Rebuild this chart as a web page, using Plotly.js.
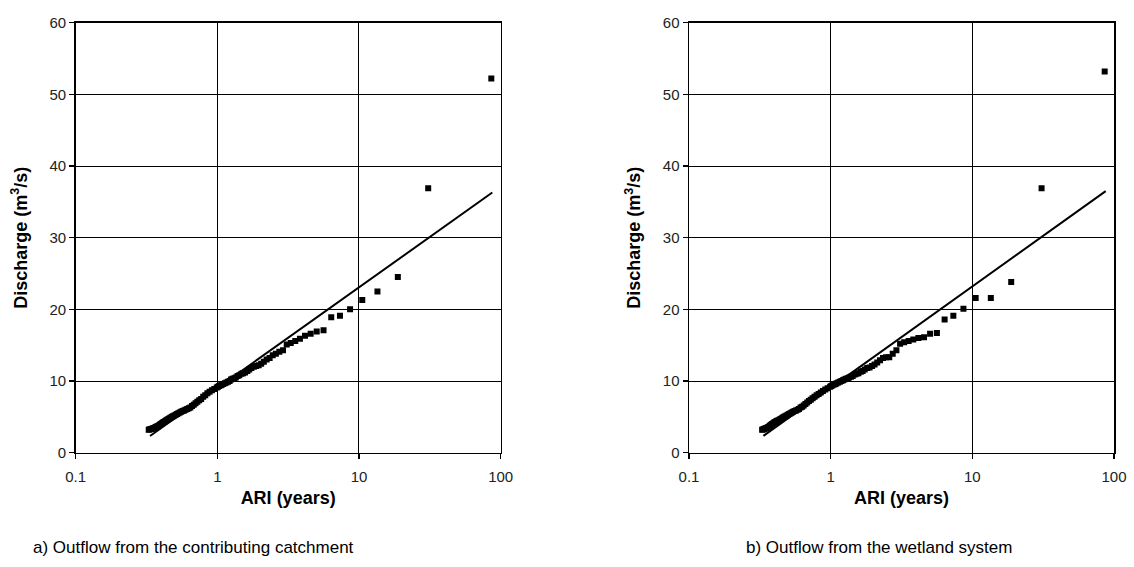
<!DOCTYPE html>
<html>
<head>
<meta charset="utf-8">
<script src="https://cdn.plot.ly/plotly-3.0.1.min.js"></script>
<style>html,body{margin:0;padding:0;background:#fff;}#chart{width:1134px;height:567px;}</style>
</head>
<body>
<div id="chart"></div>
<script>
// ARI (years) plotting positions (same for both panels)
var ari = [85.9, 30.8, 18.8, 13.5, 10.55, 8.65, 7.34, 6.37, 5.62, 5.03,
  4.56, 4.16, 3.83, 3.55, 3.30, 3.09, 2.91, 2.74, 2.59, 2.46,
  2.34, 2.23, 2.13, 2.04, 1.96, 1.88, 1.81, 1.74, 1.68, 1.63,
  1.57, 1.52, 1.48, 1.43, 1.39, 1.35, 1.32, 1.28, 1.25, 1.22,
  1.19, 1.16, 1.13, 1.10, 1.08, 1.06, 1.03, 1.01,
  0.991, 0.952, 0.916, 0.882, 0.851, 0.822, 0.795, 0.769, 0.745, 0.723,
  0.702, 0.682, 0.663, 0.645, 0.629, 0.613, 0.597, 0.583, 0.569, 0.556,
  0.543, 0.531, 0.520, 0.509, 0.498, 0.488, 0.479, 0.469, 0.460, 0.452,
  0.443, 0.435, 0.427, 0.420, 0.413, 0.406, 0.399, 0.393, 0.386, 0.380,
  0.374, 0.369, 0.363, 0.358, 0.352, 0.347, 0.342, 0.338, 0.333, 0.328];

// a) Outflow from the contributing catchment (m3/s)
var qCatchment = [52.2, 36.9, 24.5, 22.5, 21.3, 20.0, 19.1, 18.9, 17.1, 16.9,
  16.6, 16.3, 15.9, 15.6, 15.3, 15.1, 14.3, 14.1, 13.8, 13.6,
  13.2, 13.0, 12.7, 12.4, 12.2, 12.1, 12.0, 11.8, 11.6, 11.4,
  11.2, 11.1, 11.0, 10.8, 10.7, 10.5, 10.4, 10.3, 10.2, 10.0,
  9.9, 9.8, 9.7, 9.6, 9.5, 9.4, 9.3, 9.2,
  9.1, 8.9, 8.7, 8.5, 8.3, 8.0, 7.8, 7.5, 7.3, 7.1,
  6.9, 6.7, 6.5, 6.3, 6.2, 6.1, 6.0, 5.9, 5.8, 5.7,
  5.6, 5.5, 5.4, 5.3, 5.2, 5.1, 5.0, 4.9, 4.8, 4.7,
  4.6, 4.5, 4.4, 4.3, 4.2, 4.1, 4.0, 3.9, 3.8, 3.7,
  3.65, 3.6, 3.5, 3.45, 3.4, 3.35, 3.3, 3.3, 3.25, 3.2];

// b) Outflow from the wetland system (m3/s)
var qWetland = [53.2, 36.9, 23.8, 21.6, 21.6, 20.1, 19.1, 18.6, 16.7, 16.6,
  16.1, 16.0, 15.8, 15.6, 15.4, 15.2, 14.3, 13.8, 13.3, 13.3,
  13.2, 12.9, 12.6, 12.3, 12.1, 11.9, 11.8, 11.6, 11.4, 11.3,
  11.1, 11.0, 10.9, 10.7, 10.6, 10.5, 10.4, 10.3, 10.2, 10.1,
  10.0, 9.9, 9.8, 9.7, 9.6, 9.5, 9.4, 9.3,
  9.2, 9.0, 8.8, 8.6, 8.4, 8.2, 8.0, 7.8, 7.6, 7.4,
  7.2, 7.0, 6.8, 6.6, 6.4, 6.3, 6.1, 6.0, 5.9, 5.8,
  5.7, 5.6, 5.5, 5.4, 5.3, 5.2, 5.1, 5.0, 4.9, 4.8,
  4.7, 4.6, 4.5, 4.45, 4.4, 4.3, 4.2, 4.1, 4.0, 3.9,
  3.8, 3.7, 3.6, 3.5, 3.45, 3.4, 3.35, 3.3, 3.25, 3.2];

// fitted distribution lines (straight on log-ARI axis)
var fitAri = [0.335, 87.3];
var fitCatchment = [2.33, 36.3];
var fitWetland = [2.35, 36.5];

var xTickVals = [0.1, 1, 10, 100];
var xTickText = ['0.1', '1', '10', '100'];
var yTickVals = [0, 10, 20, 30, 40, 50, 60];

var subtitles = ['a) Outflow from the contributing catchment', 'b) Outflow from the wetland system'];

var FONT = 'Liberation Sans, Arial, sans-serif';

function xAxis(domain, anchor) {
  return {
    type: 'log', range: [-1, 2], domain: domain, anchor: anchor,
    tickvals: xTickVals, ticktext: xTickText,
    ticks: 'outside', ticklen: 5, tickwidth: 1.5, tickcolor: '#000',
    ticklabelstandoff: 5,
    showgrid: true, gridcolor: '#000', gridwidth: 1,
    showline: true, linecolor: '#000', linewidth: 1.5, mirror: true,
    zeroline: false,
    tickfont: {family: FONT, size: 15, color: '#222'},
    title: {text: '<b>ARI (years)</b>', font: {family: FONT, size: 18, color: '#000'}, standoff: 7},
    automargin: false
  };
}
function yAxis(anchor) {
  return {
    range: [0, 60], domain: [0.2016, 0.96], anchor: anchor,
    tickvals: yTickVals,
    ticks: 'outside', ticklen: 5, tickwidth: 1.5, tickcolor: '#000',
    showgrid: true, gridcolor: '#000', gridwidth: 1,
    showline: true, linecolor: '#000', linewidth: 1.5, mirror: true,
    zeroline: false,
    tickfont: {family: FONT, size: 15, color: '#222'},
    title: {text: '<b>Discharge (m<sup>3</sup>/s)</b>', font: {family: FONT, size: 18, color: '#000'}, standoff: 17},
    automargin: false
  };
}

var data = [
  {x: ari, y: qCatchment, xaxis: 'x', yaxis: 'y', type: 'scatter', mode: 'markers',
   marker: {symbol: 'square', size: 6, color: '#000'}, hoverinfo: 'x+y'},
  {x: fitAri, y: fitCatchment, xaxis: 'x', yaxis: 'y', type: 'scatter', mode: 'lines',
   line: {color: '#000', width: 2}},
  {x: ari, y: qWetland, xaxis: 'x2', yaxis: 'y2', type: 'scatter', mode: 'markers',
   marker: {symbol: 'square', size: 6, color: '#000'}, hoverinfo: 'x+y'},
  {x: fitAri, y: fitWetland, xaxis: 'x2', yaxis: 'y2', type: 'scatter', mode: 'lines',
   line: {color: '#000', width: 2}}
];

var layout = {
  width: 1134, height: 567,
  margin: {l: 0, r: 0, t: 0, b: 0},
  paper_bgcolor: '#fff', plot_bgcolor: '#fff',
  showlegend: false,
  xaxis: xAxis([0.0667, 0.4415], 'y'),
  yaxis: yAxis('x'),
  xaxis2: xAxis([0.6076, 0.9824], 'y2'),
  yaxis2: yAxis('x2'),
  annotations: [
    {text: subtitles[0], xref: 'paper', yref: 'paper', x: 0.027, y: 0.035,
     xanchor: 'left', yanchor: 'middle', showarrow: false,
     font: {family: FONT, size: 17, color: '#000'}},
    {text: subtitles[1], xref: 'paper', yref: 'paper', x: 0.656, y: 0.035,
     xanchor: 'left', yanchor: 'middle', showarrow: false,
     font: {family: FONT, size: 17, color: '#000'}}
  ]
};

Plotly.newPlot('chart', data, layout, {displayModeBar: false, staticPlot: true});
</script>
</body>
</html>
